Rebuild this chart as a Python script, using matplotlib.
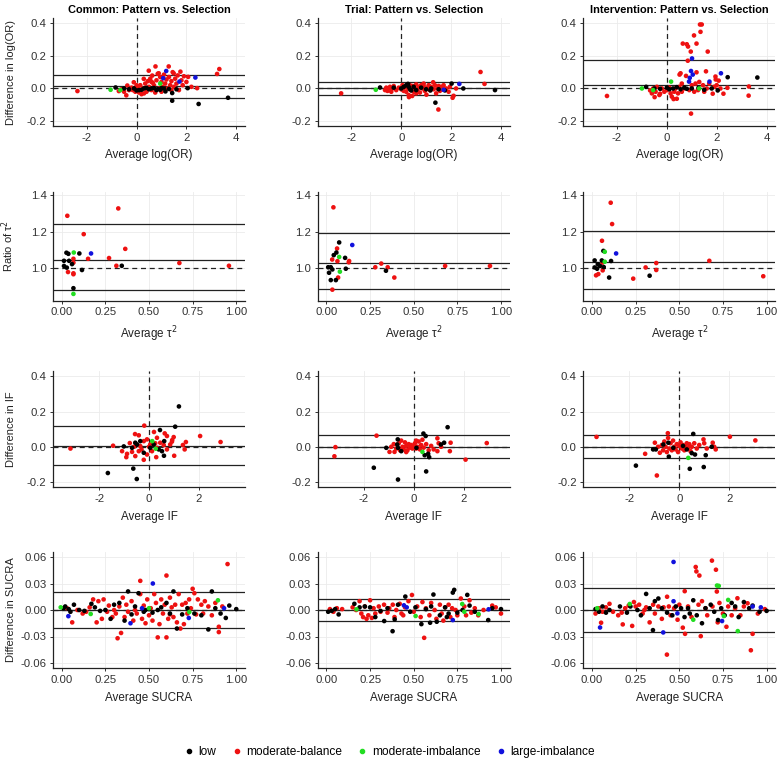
import matplotlib
matplotlib.use("Agg")
import matplotlib.pyplot as plt

plt.rcParams['font.family'] = ['Liberation Sans', 'DejaVu Sans']
plt.rcParams['axes.unicode_minus'] = False

# ---------------- data ----------------
col_titles = ["Common: Pattern vs. Selection", "Trial: Pattern vs. Selection",
              "Intervention: Pattern vs. Selection"]
row_ylabels = ["Difference in log(OR)", "Ratio of τ$^2$", "Difference in IF", "Difference in SUCRA"]
row_xlabels = ["Average log(OR)", "Average τ$^2$", "Average IF", "Average SUCRA"]
groups = ["low", "moderate-balance", "moderate-imbalance", "large-imbalance"]

# limits of agreement lines (upper, mean, lower) per panel [row][col]
loa_lines = [
    [(0.085, 0.016, -0.057), (0.042, 0.0, -0.040), (0.174, 0.024, -0.127)],
    [(1.241, 1.045, 0.883), (1.19, 1.027, 0.885), (1.204, 1.034, 0.886)],
    [(0.116, 0.004, -0.103), (0.067, 0.0, -0.065), (0.065, -0.001, -0.065)],
    [(0.0206, 0.0, -0.0206), (0.0128, 0.0, -0.0128), (0.0248, 0.0, -0.0248)],
]
ref_value = [0.0, 1.0, 0.0, 0.0]

# ---- Row 1: log(OR)
or_common_low = [(-0.84,0.006),(-0.3,-0.005),(-0.1,0.0),(0.1,-0.01),(0.3,0.0),(0.5,-0.005),(0.7,0.003),
    (0.8,-0.01),(0.95,-0.008),(1.1,0.0),(1.16,-0.018),(1.43,-0.028),(1.43,-0.075),(1.6,-0.005),(2.05,0.002),
    (2.49,-0.095),(3.67,-0.057),(0.2,-0.008),(0.6,0.0),(1.3,-0.003),(-0.5,0.0),(0.0,-0.012),(0.4,0.004),
    (1.0,0.002),(0.85,-0.004)]
or_common_mb = [(-2.37,-0.016),(-0.71,-0.016),(-0.6,-0.005),(-0.5,-0.02),(-0.41,-0.042),(-0.37,0.018),
    (-0.3,-0.01),(-0.2,0.005),(-0.11,0.038),(-0.05,-0.02),(0.05,0.01),(0.1,-0.025),(0.15,0.02),(0.2,-0.035),
    (0.25,0.0),(0.29,0.059),(0.3,-0.03),(0.35,0.03),(0.4,-0.02),(0.45,0.045),(0.49,0.109),(0.5,0.01),
    (0.55,0.06),(0.6,-0.01),(0.63,0.079),(0.65,0.035),(0.7,0.02),(0.76,0.135),(0.8,0.05),(0.85,0.09),
    (0.89,0.093),(0.9,0.0),(0.95,0.07),(1.0,0.04),(1.05,0.01),(1.1,0.085),(1.15,0.03),(1.2,0.055),(1.25,0.0),
    (1.29,0.135),(1.3,0.07),(1.35,0.02),(1.4,0.045),(1.45,0.1),(1.49,0.093),(1.5,0.01),(1.55,0.06),(1.6,0.03),
    (1.65,0.08),(1.7,-0.01),(1.76,0.103),(1.8,0.05),(1.85,0.02),(1.9,0.075),(2.0,0.04),(2.07,0.071),(2.2,0.01),
    (2.43,0.002),(3.23,0.089),(3.32,0.119),(0.0,0.02),(0.6,0.04),(1.0,-0.02),(0.75,-0.025),(-0.15,-0.01),
    (1.4,-0.01)]
or_common_mi = [(-1.04,-0.008),(-0.65,-0.01),(0.95,0.03)]
or_common_li = [(1.19,0.107),(1.07,0.063),(1.72,0.042),(2.36,0.067)]

or_trial_low = [(-0.85,0.006),(-0.3,0.005),(0.0,0.0),(0.1,0.01),(0.2,0.02),(0.27,0.028),(0.3,0.01),
    (0.35,-0.005),(0.5,0.01),(0.6,-0.01),(0.8,0.005),(1.0,-0.005),(1.17,-0.012),(1.37,-0.087),(1.5,-0.005),
    (1.75,-0.012),(2.02,0.03),(2.49,0.0),(3.76,-0.01),(0.4,-0.012),(1.2,0.0)]
or_trial_mb = [(-2.41,-0.03),(-0.65,-0.01),(-0.6,0.005),(-0.55,-0.015),(-0.5,0.0),(-0.45,0.01),(-0.4,-0.02),
    (-0.35,0.0),(-0.3,0.015),(-0.2,-0.01),(-0.1,0.005),(0.0,-0.005),(0.05,0.02),(0.1,-0.015),(0.15,0.01),
    (0.2,-0.02),(0.25,0.005),(0.31,-0.053),(0.35,0.02),(0.4,-0.01),(0.44,-0.046),(0.45,0.015),(0.5,-0.02),
    (0.55,0.0),(0.6,0.025),(0.65,-0.01),(0.7,0.01),(0.75,-0.025),(0.8,0.02),(0.85,0.0),(0.9,0.015),
    (0.95,-0.015),(1.01,-0.038),(1.05,0.005),(1.1,0.02),(1.15,-0.01),(1.2,0.01),(1.28,0.038),(1.3,-0.005),
    (1.35,0.02),(1.4,-0.03),(1.45,0.0),(1.49,-0.129),(1.5,0.015),(1.55,-0.015),(1.6,0.01),(1.65,-0.005),
    (1.7,0.02),(1.8,0.0),(1.9,-0.02),(1.95,0.01),(2.06,-0.057),(2.1,-0.045),(2.2,0.0),(3.18,0.101),
    (3.34,0.028),(0.3,-0.04),(0.6,-0.03),(0.9,0.03)]
or_trial_mi = [(-1.02,-0.008)]
or_trial_li = [(2.33,0.028),(1.7,-0.008)]

or_int_low = [(-0.83,0.01),(-0.5,0.0),(-0.27,-0.002),(0.0,0.005),(0.1,-0.005),(0.25,0.0),(0.4,0.008),
    (0.55,-0.005),(0.8,-0.002),(1.0,0.0),(1.27,0.004),(1.5,-0.008),(2.04,-0.012),(2.44,0.069),(3.63,0.067),
    (0.7,0.005),(1.8,0.0)]
or_int_mb = [(-2.4,-0.046),(-0.67,-0.012),(-0.6,-0.03),(-0.55,0.0),(-0.49,-0.053),(-0.45,-0.02),(-0.4,0.01),
    (-0.3,-0.04),(-0.27,-0.032),(-0.2,0.0),(-0.1,-0.02),(0.0,-0.01),(0.1,0.005),(0.15,-0.03),(0.2,-0.05),
    (0.27,-0.065),(0.3,-0.02),(0.35,0.0),(0.4,-0.063),(0.45,-0.03),(0.5,0.01),(0.51,0.085),(0.55,0.093),
    (0.6,-0.02),(0.64,0.275),(0.7,0.0),(0.77,0.077),(0.8,0.271),(0.84,0.17),(0.85,0.257),(0.9,-0.01),
    (0.96,0.226),(0.97,-0.154),(1.0,0.02),(1.09,0.325),(1.1,-0.02),(1.15,0.03),(1.19,0.275),(1.19,0.099),
    (1.25,-0.01),(1.33,0.392),(1.35,0.347),(1.4,0.392),(1.45,0.02),(1.5,-0.02),(1.57,0.105),(1.6,0.0),
    (1.64,0.226),(1.7,0.03),(1.84,-0.032),(1.9,0.01),(1.95,0.073),(1.96,0.055),(2.0,0.02),(2.08,0.048),
    (2.15,0.0),(2.27,-0.032),(2.43,0.004),(3.28,-0.044),(3.29,0.012),(0.6,0.03),(1.3,0.04)]
or_int_mi = [(-1.0,0.0),(0.17,0.042),(-0.55,-0.01),(1.3,0.0)]
or_int_li = [(1.01,0.184),(0.97,0.107),(1.04,0.085),(0.92,0.065),(0.89,0.042),(2.17,0.093),(1.71,0.042)]

# ---- Row 2: tau^2 ratio
tau_common_low = [(0.027,1.085),(0.038,1.079),(0.101,1.081),(0.013,1.041),(0.042,1.041),(0.013,1.013),
    (0.029,1.004),(0.059,1.023),(0.116,0.991),(0.344,1.014),(0.067,0.892)]
tau_common_mb = [(0.032,1.286),(0.324,1.326),(0.126,1.186),(0.364,1.106),(0.271,1.056),(0.151,1.052),
    (0.067,1.052),(0.067,1.031),(0.313,1.014),(0.674,1.029),(0.958,1.014),(0.036,0.98),(0.067,0.973),
    (0.067,0.968)]
tau_common_mi = [(0.067,0.861),(0.069,1.086)]
tau_common_li = [(0.168,1.081)]

tau_trial_low = [(0.073,1.141),(0.042,1.072),(0.057,1.086),(0.107,1.057),(0.111,0.998),(0.01,1.006),
    (0.025,1.006),(0.015,0.976),(0.034,0.994),(0.025,0.936),(0.054,0.936),(0.341,0.987)]
tau_trial_mb = [(0.04,1.332),(0.061,1.108),(0.033,1.048),(0.063,1.039),(0.13,1.04),(0.128,1.033),
    (0.28,1.006),(0.314,1.026),(0.351,1.006),(0.389,0.95),(0.68,1.013),(0.937,1.013),(0.067,0.95),
    (0.034,0.884)]
tau_trial_mi = [(0.073,1.062),(0.077,0.982)]
tau_trial_li = [(0.148,1.127)]

tau_int_low = [(0.065,1.095),(0.015,1.043),(0.056,1.043),(0.109,1.04),(0.033,1.023),(0.015,1.005),
    (0.046,1.013),(0.029,0.998),(0.067,1.007),(0.098,0.95),(0.33,0.96)]
tau_int_mb = [(0.107,1.357),(0.115,1.241),(0.057,1.15),(0.059,1.031),(0.061,0.989),(0.036,0.969),
    (0.023,0.962),(0.236,0.944),(0.307,1.005),(0.368,1.029),(0.368,0.991),(0.672,1.041),(0.981,0.957)]
tau_int_mi = [(0.073,1.09),(0.073,1.036)]
tau_int_li = [(0.138,1.081)]

# ---- Row 3: inconsistency factor
if_common_low = [(1.2,0.229),(1.05,0.114),(-1.65,-0.149),(-0.63,-0.124),(-0.49,-0.183),(0.44,0.095),
    (0.6,-0.051),(-1.01,0.002),(-0.55,0.023),(-0.35,0.032),(0.19,0.013),(0.52,-0.025),(0.39,-0.015),
    (-0.68,-0.006),(-0.21,-0.034),(0.61,0.032),(0.05,-0.006),(-0.48,0.013)]
if_common_mb = [(-3.15,-0.01),(-1.44,0.006),(-0.19,0.12),(-0.56,0.072),(-0.41,0.065),(0.2,0.084),
    (0.63,0.076),(0.99,0.055),(0.93,0.038),(1.48,0.027),(1.36,0.01),(1.43,-0.015),(1.01,-0.051),(2.05,0.061),
    (2.87,0.027),(-0.91,-0.059),(-0.88,-0.04),(-0.21,-0.074),(0.29,-0.059),(-0.68,-0.029),(-0.77,0.021),
    (-0.08,0.042),(0.32,0.051),(0.72,0.061),(-0.41,-0.025),(0.05,0.013),(0.72,-0.015),(0.45,0.023),
    (-0.35,0.004),(0.12,-0.025),(-0.55,-0.053),(-0.08,-0.044),(0.32,-0.006),(0.59,0.01),(0.85,0.013),
    (-0.21,0.032),(-1.08,-0.025),(0.92,0.029),(-0.3,-0.015),(0.0,0.0),(0.25,0.02),(-0.6,0.0)]
if_common_mi = [(0.13,0.032),(0.27,-0.011)]
if_common_li = []

if_trial_low = [(1.36,0.111),(0.39,0.075),(0.48,0.061),(-1.6,-0.119),(-0.63,-0.186),(0.5,-0.14),
    (0.62,-0.059),(0.58,-0.04),(0.44,-0.048),(1.22,0.023),(1.09,0.013),(-0.64,0.042),(-0.66,0.013),
    (-0.5,-0.025),(-1.1,-0.006),(0.11,-0.006),(-0.63,-0.006)]
if_trial_mb = [(-3.14,-0.002),(-3.18,-0.054),(-1.49,0.063),(-0.97,-0.029),(-0.9,0.0),(-0.8,0.015),
    (-0.77,-0.029),(-0.7,-0.01),(-0.6,0.02),(-0.55,-0.02),(-0.5,0.035),(-0.45,0.0),(-0.4,-0.015),
    (-0.35,0.025),(-0.3,0.005),(-0.25,-0.02),(-0.2,0.015),(-0.15,-0.005),(-0.1,0.01),(-0.05,-0.01),
    (0.0,0.005),(0.05,0.02),(0.1,-0.01),(0.15,0.0),(0.2,0.03),(0.25,-0.015),(0.3,0.01),(0.35,0.04),
    (0.4,-0.005),(0.5,0.015),(0.6,-0.02),(0.7,0.005),(0.8,-0.015),(0.95,-0.025),(0.95,0.048),(1.0,0.02),
    (1.1,0.0),(1.45,-0.025),(1.48,0.023),(2.08,-0.073),(2.93,0.021),(-0.3,-0.03),(0.1,0.035)]
if_trial_mi = [(0.35,-0.029)]
if_trial_li = []

if_int_low = [(-1.74,-0.107),(0.42,-0.125),(0.98,-0.115),(1.06,-0.048),(0.56,0.073),(-0.42,-0.056),
    (-1.05,-0.015),(-0.94,-0.015),(1.3,0.0),(0.5,-0.036),(0.63,-0.044),(-0.64,0.013),(-0.44,0.023),
    (-0.24,-0.006),(0.3,-0.015),(0.15,0.005)]
if_int_mb = [(-3.32,0.056),(-1.37,-0.04),(-0.98,0.023),(-0.9,-0.163),(-0.85,0.0),(-0.78,-0.034),(-0.7,0.01),
    (-0.65,-0.02),(-0.6,0.03),(-0.55,0.0),(-0.5,-0.03),(-0.46,0.077),(-0.45,0.05),(-0.4,-0.01),(-0.35,0.02),
    (-0.3,-0.02),(-0.25,0.035),(-0.2,0.0),(-0.15,-0.015),(-0.1,0.015),(-0.05,-0.03),(0.0,0.005),(0.05,0.025),
    (0.1,-0.01),(0.15,0.01),(0.2,-0.02),(0.25,0.0),(0.3,0.02),(0.35,-0.005),(0.4,0.015),(0.45,-0.025),
    (0.5,0.0),(0.6,0.02),(0.7,-0.01),(0.8,0.01),(0.97,0.042),(1.0,0.02),(1.1,-0.01),(1.34,0.023),
    (1.46,-0.015),(1.4,0.0),(2.03,0.057),(3.05,0.036)]
if_int_mi = [(0.36,-0.063)]
if_int_li = []

# ---- Row 4: SUCRA
sucra_common_low = [(0.01,0.002),(0.02,0.004),(0.04,0.001),(0.05,-0.002),(0.07,0.006),(0.1,0.0),(0.13,-0.001),
    (0.17,0.007),(0.19,0.003),(0.22,-0.001),(0.25,0.0),(0.28,-0.01),(0.3,0.006),(0.33,0.008),(0.36,-0.012),
    (0.38,0.021),(0.4,-0.005),(0.42,0.004),(0.44,0.019),(0.47,-0.002),(0.5,0.001),(0.52,-0.003),(0.55,0.0),
    (0.57,0.003),(0.6,0.008),(0.62,-0.004),(0.64,0.021),(0.66,-0.021),(0.69,-0.005),(0.72,0.002),(0.76,-0.004),
    (0.8,-0.006),(0.84,-0.022),(0.86,0.021),(0.88,0.002),(0.91,-0.004),(0.94,-0.009),(0.96,0.005),(1.0,0.001),
    (0.48,0.0)]
sucra_common_mb = [(0.03,0.002),(0.06,-0.014),(0.09,0.0),(0.12,-0.004),(0.16,0.003),(0.18,0.012),(0.2,-0.014),
    (0.21,0.01),(0.23,-0.01),(0.24,0.012),(0.26,-0.002),(0.27,0.005),(0.29,-0.008),(0.3,0.0),(0.31,-0.004),
    (0.32,-0.032),(0.33,0.004),(0.34,-0.026),(0.35,0.014),(0.36,-0.008),(0.37,0.006),(0.38,-0.002),(0.4,0.01),
    (0.41,-0.012),(0.42,0.0),(0.43,-0.004),(0.45,0.033),(0.45,0.018),(0.46,-0.01),(0.47,0.005),(0.48,-0.015),
    (0.49,0.012),(0.5,-0.006),(0.51,0.002),(0.52,-0.012),(0.53,0.018),(0.54,0.008),(0.55,-0.031),(0.56,-0.016),
    (0.57,0.012),(0.58,-0.004),(0.59,0.006),(0.6,0.039),(0.6,-0.031),(0.61,-0.01),(0.62,0.014),(0.63,0.003),
    (0.64,-0.008),(0.65,0.006),(0.66,-0.014),(0.67,0.018),(0.68,-0.021),(0.69,0.006),(0.7,-0.016),(0.71,0.008),
    (0.72,-0.004),(0.73,0.012),(0.74,0.002),(0.75,0.024),(0.76,0.019),(0.77,-0.005),(0.78,0.012),(0.8,0.006),
    (0.81,-0.004),(0.82,0.01),(0.84,0.004),(0.86,-0.006),(0.88,0.008),(0.9,-0.025),(0.9,-0.019),(0.92,0.004),
    (0.95,0.052),(0.62,-0.005),(0.14,-0.002)]
sucra_common_mi = [(-0.006,0.003),(0.166,-0.0045),(0.731,-0.0023),(0.895,0.011),(0.5,0.002)]
sucra_common_li = [(0.522,0.03),(0.394,-0.015),(0.038,-0.007),(0.728,-0.009),(0.46,0.002),(0.93,0.002)]

sucra_trial_low = [(0.01,-0.002),(0.03,-0.001),(0.05,0.001),(0.07,-0.005),(0.16,0.007),(0.19,0.003),
    (0.22,0.004),(0.25,0.003),(0.28,-0.008),(0.31,-0.001),(0.331,-0.0125),(0.35,0.002),(0.379,-0.024),
    (0.391,-0.0106),(0.41,0.006),(0.452,0.0152),(0.48,-0.002),(0.51,0.003),(0.544,-0.016),(0.57,0.001),
    (0.594,-0.0144),(0.613,0.0175),(0.632,-0.0133),(0.65,-0.006),(0.68,0.003),(0.7,-0.004),(0.724,0.0197),
    (0.732,0.0228),(0.75,-0.003),(0.78,0.0),(0.807,0.0171),(0.82,0.005),(0.85,-0.002),(0.927,-0.0114),
    (0.95,0.002),(1.0,0.001),(0.6,0.004),(0.69,-0.008)]
sucra_trial_mb = [(0.02,0.001),(0.04,-0.002),(0.06,0.002),(0.09,0.001),(0.15,0.003),(0.17,0.0),(0.19,0.01),
    (0.2,-0.004),(0.21,-0.008),(0.22,0.004),(0.23,-0.01),(0.24,-0.006),(0.25,0.011),(0.27,0.002),(0.28,-0.004),
    (0.3,0.004),(0.31,-0.002),(0.33,0.006),(0.35,-0.003),(0.36,0.002),(0.38,0.006),(0.39,-0.008),(0.4,0.0),
    (0.42,0.007),(0.43,-0.004),(0.45,0.003),(0.47,0.01),(0.49,0.017),(0.5,-0.002),(0.52,0.004),(0.54,-0.008),
    (0.55,0.009),(0.56,-0.0315),(0.57,0.002),(0.59,-0.006),(0.6,0.008),(0.62,0.0),(0.63,-0.01),(0.65,0.006),
    (0.66,-0.004),(0.67,-0.012),(0.68,0.003),(0.7,0.006),(0.71,-0.008),(0.72,0.002),(0.74,0.0),(0.75,-0.006),
    (0.77,0.013),(0.79,0.004),(0.8,-0.006),(0.82,0.011),(0.83,-0.003),(0.85,0.002),(0.87,-0.006),(0.9,0.0),
    (0.95,0.005),(0.97,0.003),(1.0,-0.004),(0.26,-0.009),(0.44,-0.006)]
sucra_trial_mi = [(0.778,0.0068),(0.511,-0.0068),(0.872,-0.0046),(0.172,0.0008),(0.79,-0.002)]
sucra_trial_li = [(0.444,0.0053),(0.724,-0.0114),(0.929,0.0008),(0.46,0.003)]

sucra_int_low = [(0.02,0.001),(0.04,-0.002),(0.06,0.004),(0.08,-0.003),(0.1,0.0),(0.16,0.004),(0.2,-0.003),
    (0.22,0.004),(0.26,0.0),(0.28,-0.006),(0.31,0.0182),(0.33,0.002),(0.349,-0.0228),(0.36,0.01),(0.38,0.013),
    (0.4,0.002),(0.43,-0.003),(0.46,-0.006),(0.48,0.004),(0.51,0.002),(0.53,-0.008),(0.56,-0.004),(0.58,0.011),
    (0.6,-0.006),(0.63,-0.015),(0.65,0.002),(0.68,0.006),(0.7,-0.002),(0.722,-0.0114),(0.74,0.002),
    (0.76,-0.006),(0.8,0.008),(0.82,0.004),(0.84,-0.008),(0.87,0.009),(0.9,0.002),(0.92,0.005),(0.96,-0.002),
    (1.0,-0.001),(0.55,0.002)]
sucra_int_mb = [(0.02,-0.004),(0.04,0.002),(0.052,-0.0144),(0.06,-0.002),(0.08,0.003),(0.1,0.007),
    (0.12,-0.002),(0.15,-0.006),(0.17,-0.003),(0.176,-0.0163),(0.19,0.002),(0.21,0.005),(0.23,-0.018),
    (0.24,0.009),(0.25,0.004),(0.27,0.006),(0.29,-0.004),(0.31,0.003),(0.33,-0.014),(0.35,0.006),(0.36,-0.004),
    (0.38,0.004),(0.4,-0.01),(0.41,0.003),(0.429,-0.0505),(0.43,0.015),(0.44,0.004),(0.45,-0.006),(0.47,0.002),
    (0.49,-0.011),(0.5,0.006),(0.52,-0.02),(0.531,0.0213),(0.533,-0.027),(0.55,0.004),(0.57,-0.008),
    (0.594,0.0487),(0.598,0.0437),(0.615,0.039),(0.623,-0.0296),(0.63,0.01),(0.65,0.002),(0.66,-0.006),
    (0.687,0.0559),(0.69,0.004),(0.71,0.0456),(0.715,0.0209),(0.72,-0.014),(0.73,0.008),(0.75,-0.004),
    (0.77,-0.019),(0.78,0.004),(0.8,-0.006),(0.82,0.002),(0.833,0.0133),(0.85,-0.006),(0.87,0.004),
    (0.891,0.0076),(0.91,-0.0456),(0.92,-0.027),(0.95,-0.004),(0.99,0.001),(0.3,0.0),(0.61,0.006)]
sucra_int_mi = [(0.716,0.0277),(0.726,0.0273),(0.835,-0.0239),(0.216,0.0068),(0.78,0.0114),(0.755,-0.0068),
    (0.58,-0.011),(0.03,0.002)]
sucra_int_li = [(0.046,-0.0198),(0.408,-0.0254),(0.467,0.0099),(0.489,-0.0038),(0.745,-0.0125),(0.967,0.003),
    (0.467,0.0544),(0.92,0.004)]

panels = [
    [(or_common_low, or_common_mb, or_common_mi, or_common_li),
     (or_trial_low, or_trial_mb, or_trial_mi, or_trial_li),
     (or_int_low, or_int_mb, or_int_mi, or_int_li)],
    [(tau_common_low, tau_common_mb, tau_common_mi, tau_common_li),
     (tau_trial_low, tau_trial_mb, tau_trial_mi, tau_trial_li),
     (tau_int_low, tau_int_mb, tau_int_mi, tau_int_li)],
    [(if_common_low, if_common_mb, if_common_mi, if_common_li),
     (if_trial_low, if_trial_mb, if_trial_mi, if_trial_li),
     (if_int_low, if_int_mb, if_int_mi, if_int_li)],
    [(sucra_common_low, sucra_common_mb, sucra_common_mi, sucra_common_li),
     (sucra_trial_low, sucra_trial_mb, sucra_trial_mi, sucra_trial_li),
     (sucra_int_low, sucra_int_mb, sucra_int_mi, sucra_int_li)],
]

# ---------------- styling / layout ----------------
W, H = 778, 760
colors = ["black", "#ee1111", "#22dd22", "#1111dd"]
draw_order = [1, 0, 2, 3]
col_left = [53, 317.7, 583.3]
col_width = 192
row_tb = [(18.3, 126), (191.7, 300.7), (371, 487.3), (551.7, 668.3)]
xlims = [(-3.35, 4.35), (-0.05, 1.05), (-3.85, 3.85), (-0.05, 1.05)]
ylims = [(-0.23, 0.43), (0.824, 1.417), (-0.23, 0.43), (-0.066, 0.066)]
xticks = [[-2, 0, 2, 4], [0, 0.25, 0.5, 0.75, 1.0], [-2, 0, 2], [0, 0.25, 0.5, 0.75, 1.0]]
yticks = [[-0.2, 0.0, 0.2, 0.4], [1.0, 1.2, 1.4], [-0.2, 0.0, 0.2, 0.4], [-0.06, -0.03, 0.0, 0.03, 0.06]]
xfmt = ["{:g}", "{:.2f}", "{:g}", "{:.2f}"]
yfmt = ["{:.1f}", "{:.1f}", "{:.1f}", "{:.2f}"]
vline = [True, False, True, False]

fig = plt.figure(figsize=(W / 100, H / 100), dpi=100)
fig.patch.set_facecolor("white")

for r in range(4):
    top, bot = row_tb[r]
    for c in range(3):
        ax = fig.add_axes([col_left[c] / W, 1 - bot / H, col_width / W, (bot - top) / H])
        ax.set_xlim(*xlims[r])
        ax.set_ylim(*ylims[r])
        ax.set_xticks(xticks[r])
        ax.set_yticks(yticks[r])
        ax.set_xticklabels([xfmt[r].format(v) for v in xticks[r]])
        ax.set_yticklabels([yfmt[r].format(v) for v in yticks[r]])
        ax.grid(True, color="#ebebeb", lw=0.6, zorder=0)
        ax.set_axisbelow(True)
        for s in ["top", "right"]:
            ax.spines[s].set_visible(False)
        for s in ["left", "bottom"]:
            ax.spines[s].set_color("#222222")
            ax.spines[s].set_linewidth(0.9)
        ax.tick_params(axis="both", length=2.5, width=0.7, color="#333333",
                       labelsize=8.2, labelcolor="#333333", pad=2.2)
        ax.axhline(ref_value[r], color="#222222", lw=0.9, ls=(0, (4, 3)), zorder=2)
        if vline[r]:
            ax.axvline(0, color="#222222", lw=0.9, ls=(0, (4, 3)), zorder=2)
        for v in loa_lines[r][c]:
            ax.axhline(v, color="#222222", lw=0.9, zorder=2)
        data = panels[r][c]
        for gi in draw_order:
            pts = data[gi]
            if pts:
                xs = [p[0] for p in pts]
                ys = [p[1] for p in pts]
                ax.scatter(xs, ys, s=11, color=colors[gi], edgecolors="none", zorder=3)
        ax.set_xlabel(row_xlabels[r], fontsize=8.4, color="#222222", labelpad=5)
        if c == 0:
            ax.set_ylabel(row_ylabels[r], fontsize=8.0, color="#222222")
            ax.yaxis.set_label_coords((16.5 - 53) / col_width, 0.5)
        if r == 0:
            ax.set_title(col_titles[c], fontsize=7.9, fontweight="bold", pad=4)

handles = [plt.Line2D([], [], ls="none", marker="o", ms=3, color=colors[i]) for i in range(4)]
fig.legend(handles, groups, loc="center", bbox_to_anchor=(0.5, 1 - 752 / H), ncol=4,
           frameon=False, fontsize=8.6, handletextpad=0.3, columnspacing=1.2, handlelength=1.0)

fig.savefig("out.png", dpi=100, facecolor="white")
